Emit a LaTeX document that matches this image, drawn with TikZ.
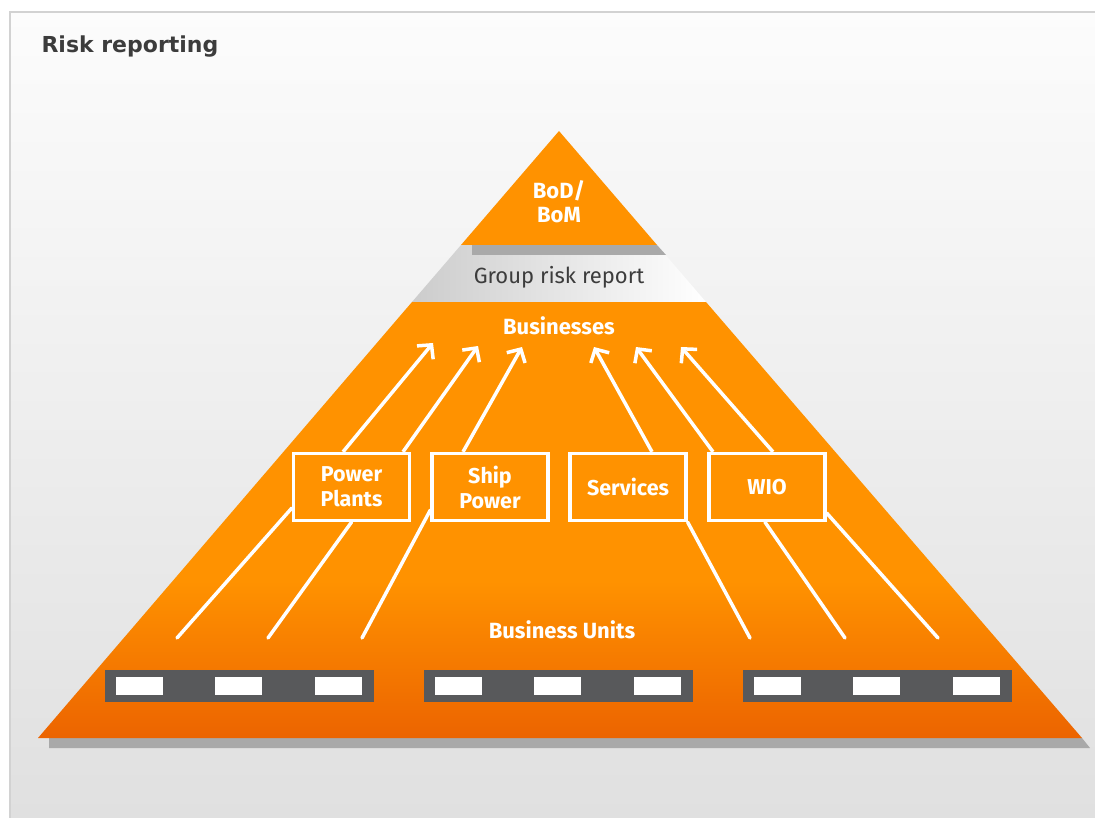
\documentclass[tikz,border=0pt]{standalone}
\usepackage{fontspec}
\setmainfont{Fira Sans}
\newfontfamily\titlefont{DejaVu Sans}
\usetikzlibrary{arrows.meta}
\definecolor{pyrorange}{HTML}{FF9200}
\definecolor{pyrdeep}{HTML}{EC6400}
\definecolor{barcolor}{HTML}{58595B}
\definecolor{shadowgray}{HTML}{A9A9A9}
\definecolor{textgray}{HTML}{3C3C3C}
\definecolor{framegray}{HTML}{D2D2D2}
\definecolor{bgtop}{HTML}{FCFCFC}
\definecolor{bgbottom}{HTML}{E0E0E0}
\pgfdeclareverticalshading{unitsfade}{100bp}{color(0bp)=(pyrdeep); color(25bp)=(pyrdeep); color(43bp)=(pyrorange); color(100bp)=(pyrorange)}
\newcommand{\unitbar}[1]
{   \fill[barcolor] (#1,670) rectangle ++(269,32);
    \foreach \dx in {11,110,210}
      \fill[white] (#1+\dx,677) rectangle ++(47,18);
}

\begin{document}
\begin{tikzpicture}[x=1pt,y=-1pt,
  flow/.style={white,line width=3.5pt,-{Straight Barb[length=10pt,width=21pt]}},
  feed/.style={white,line width=3.5pt,line cap=round},
  unit/.style={draw=white,line width=3.3pt,minimum width=116pt,minimum height=67pt,
    align=center,text=white,font=\bfseries\fontsize{21.5}{25}\selectfont},
  lbl/.style={text=white,font=\bfseries\fontsize{22}{24}\selectfont,align=center}]
 \useasboundingbox (0,0) rectangle (1095,818);
 \shade[top color=bgtop,bottom color=bgbottom] (10,12) rectangle (1095,818);
 \draw[framegray,line width=2pt] (1096,12) -- (10,12) -- (10,819);
 \node[font=\titlefont\bfseries\fontsize{22}{26}\selectfont,text=textgray,anchor=base west] (title) at (38,53) {Risk reporting};

 % pyramid
 \fill[shadowgray] (49,738) -- (1082,738) -- (1090,748) -- (49,748) -- cycle;
 \shade[shading=unitsfade] (412,302) -- (706,302) -- (1082,738) -- (38,738) -- cycle;
 \shade[left color=gray!40,right color=white] (461,245) -- (657,245) -- (706,302) -- (412,302) -- cycle;
 \fill[shadowgray] (472,245) -- (657,245) -- (666,255) -- (472,255) -- cycle;
 \fill[pyrorange] (559,131) -- (657,245) -- (461,245) -- cycle;

 \unitbar{105} \unitbar{424} \unitbar{743}

 \node[lbl] (board) at (559,202) {BoD/\\BoM};
 \node[font=\fontsize{22}{24}\selectfont,text=textgray] (group) at (559,277) {Group risk report};
 \node[lbl] (biz) at (559,326) {Businesses};
 \node[lbl] (bu) at (562,630) {Business Units};

 \node[unit] (pp) at (351.5,487) {Power\\Plants};
 \node[unit] (sp) at (490,487) {Ship\\Power};
 \node[unit] (sv) at (628,487) {Services};
 \node[unit] (wio) at (767,487) {WIO};

 \coordinate (t1) at (433,343);
 \coordinate (t2) at (478,346);
 \coordinate (t3) at (522,347);
 \coordinate (t4) at (594,347);
 \coordinate (t5) at (636,347);
 \coordinate (t6) at (681,347);
 \draw[flow] ([xshift=-8.5pt]pp.north) -- (t1);
 \draw[flow] ([xshift=51.5pt]pp.north) -- (t2);
 \draw[flow] ([xshift=-27pt]sp.north) -- (t3);
 \draw[flow] ([xshift=24pt]sv.north) -- (t4);
 \draw[flow] ([xshift=-54pt]wio.north) -- (t5);
 \draw[flow] ([xshift=6pt]wio.north) -- (t6);

 \coordinate (b1) at (177,638);
 \coordinate (b2) at (268,638);
 \coordinate (b3) at (362,638);
 \coordinate (b4) at (750,638);
 \coordinate (b5) at (845,638);
 \coordinate (b6) at (938,638);
 \draw[feed] (b1) -- ([yshift=-21pt]pp.west);
 \draw[feed] (b2) -- (pp.south);
 \draw[feed] (b3) -- ([yshift=-23pt]sp.west);
 \draw[feed] (b4) -- (sv.south east);
 \draw[feed] (b5) -- ([xshift=-2pt]wio.south);
 \draw[feed] (b6) -- ([yshift=-26pt]wio.east);

\end{tikzpicture}
\end{document}
